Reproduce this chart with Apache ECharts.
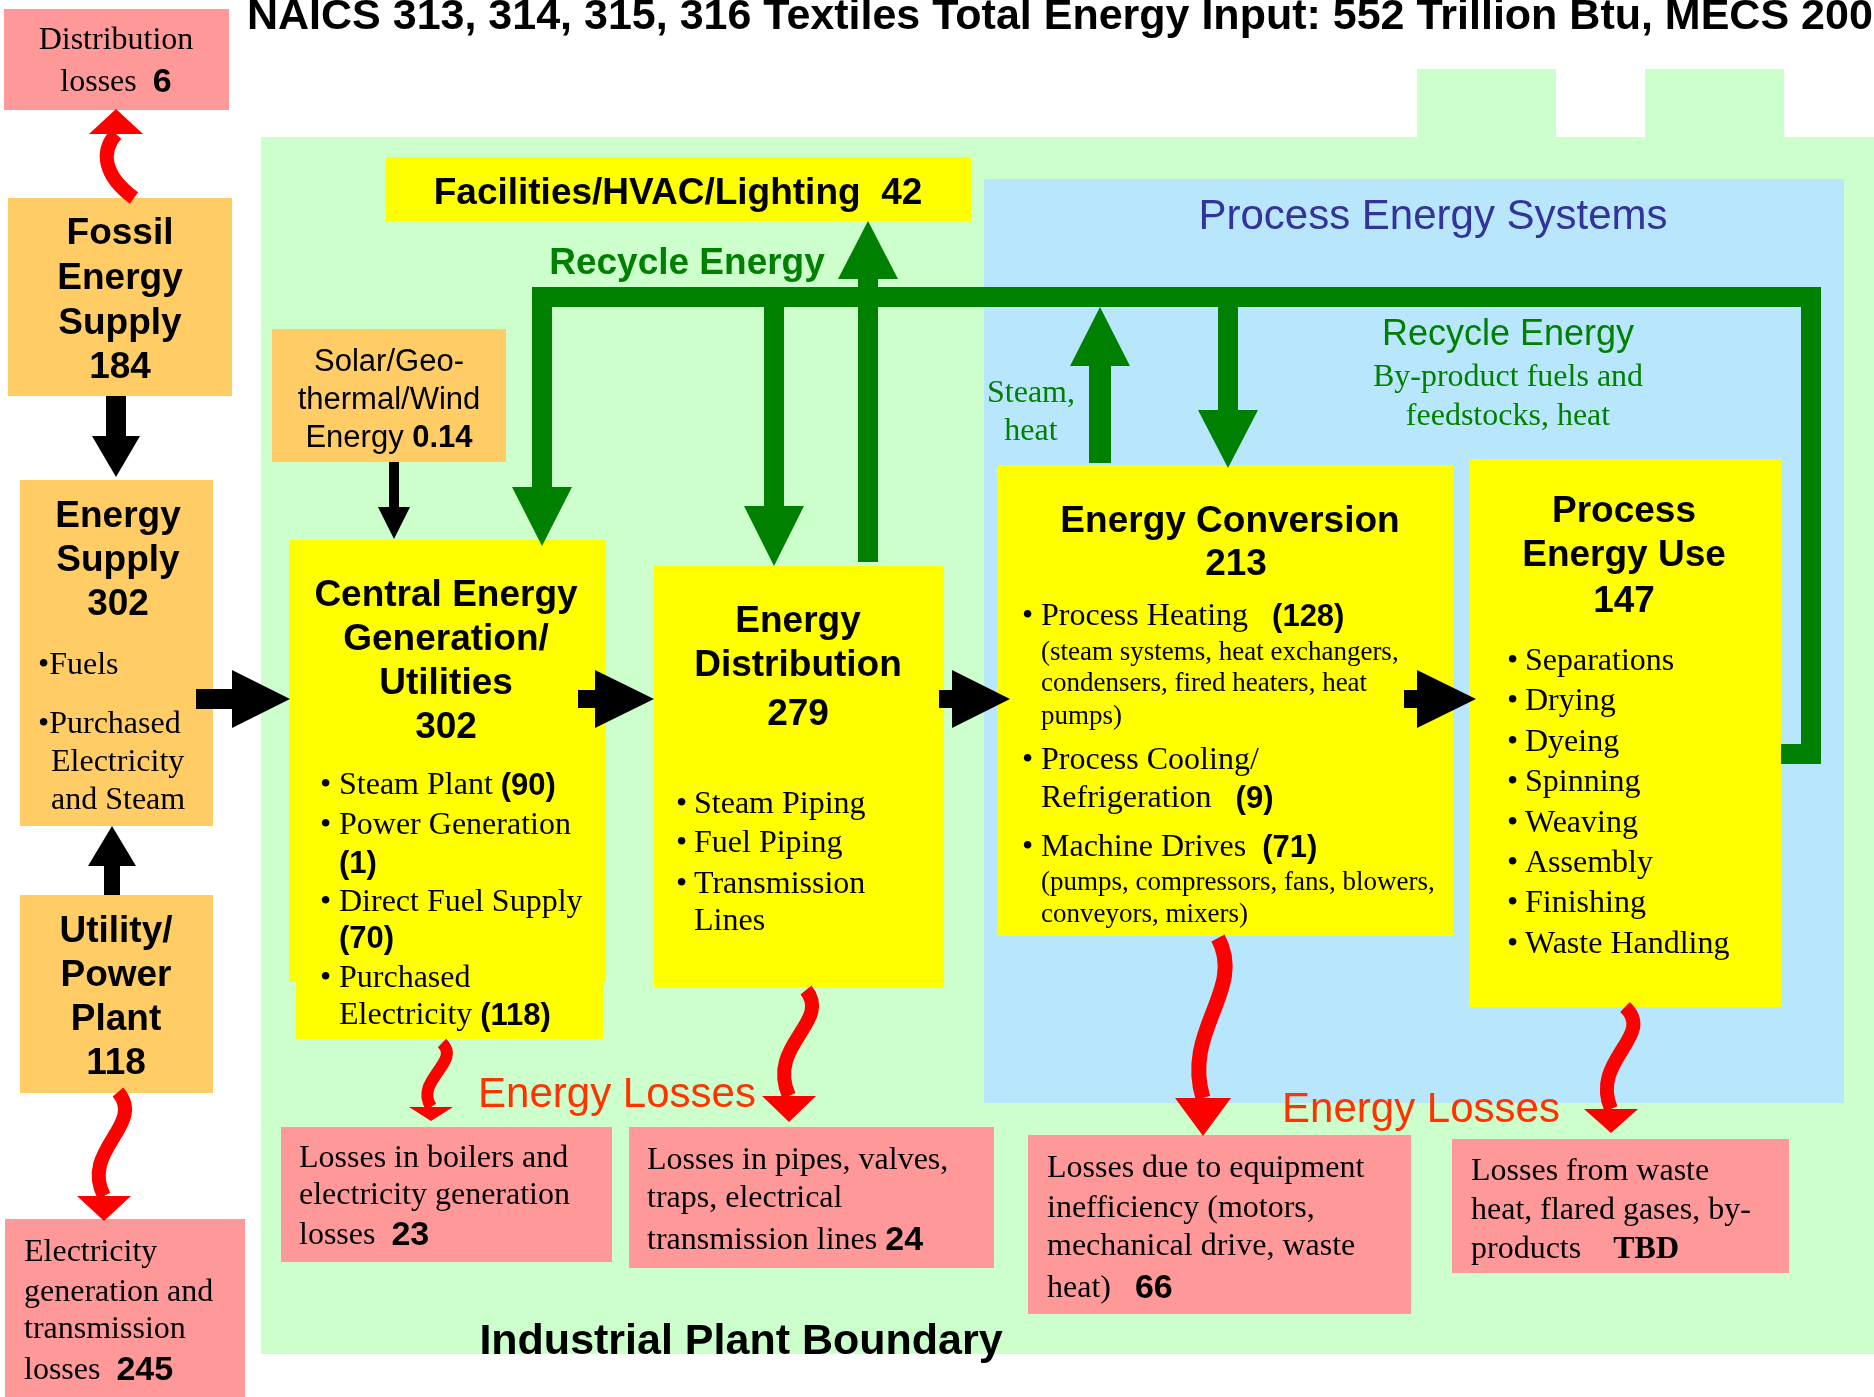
<!DOCTYPE html>
<html>
<head>
<meta charset="utf-8">
<title>Textiles Energy Footprint</title>
<script src="https://cdn.jsdelivr.net/npm/echarts@6/dist/echarts.min.js"></script>
<style>
html, body { margin: 0; padding: 0; background: #fff; }
#main { width: 1874px; height: 1397px; }
</style>
</head>
<body>
<div id="main"></div>
<script>
// 数据 (Trillion Btu)
var totalInput = 552;
var supplyValues = [184, 302, 118];          // fossil, energy supply, utility/power plant
var renewableValue = 0.14;
var facilitiesValue = 42;
var stageValues = [302, 279, 213, 147];      // central, distribution, conversion, process use
var utilityItems = ['Steam Plant', 'Power Generation', 'Direct Fuel Supply', 'Purchased Electricity'];
var utilityValues = [90, 1, 70, 118];
var distributionItems = ['Steam Piping', 'Fuel Piping', 'Transmission Lines'];
var conversionItems = ['Process Heating', 'Process Cooling/Refrigeration', 'Machine Drives'];
var conversionValues = [128, 9, 71];
var processUses = ['Separations', 'Drying', 'Dyeing', 'Spinning', 'Weaving', 'Assembly', 'Finishing', 'Waste Handling'];
var lossValues = [6, 245, 23, 24, 66, 'TBD'];  // distribution, elec gen, boilers, pipes, equipment, waste

var SANS = '"Liberation Sans", Arial, sans-serif';
var SERIF = '"Liberation Serif", "Times New Roman", serif';

// 布局 (chart units = px)
var rects = [
	[261, 137, 1613, 1217, '#CCFFCC'],
	[1417, 69, 139, 70, '#CCFFCC'],
	[1645, 69, 139, 70, '#CCFFCC'],
	[984, 179, 860, 924, '#B8E6FC'],
	[386, 157, 585, 64, '#FFFF00'],
	[272, 329, 234, 133, '#FFCC66'],
	[4, 9, 225, 101, '#FF9999'],
	[8, 198, 224, 198, '#FFCC66'],
	[20, 480, 193, 346, '#FFCC66'],
	[20, 895, 193, 198, '#FFCC66'],
	[5, 1219, 240, 178, '#FF9999'],
	[289, 540, 317, 442, '#FFFF00'],
	[296, 980, 307, 59, '#FFFF00'],
	[654, 566, 290, 422, '#FFFF00'],
	[997, 465, 456, 471, '#FFFF00'],
	[1469, 459, 312, 548, '#FFFF00'],
	[281, 1127, 331, 135, '#FF9999'],
	[629, 1127, 365, 141, '#FF9999'],
	[1028, 1135, 383, 179, '#FF9999'],
	[1452, 1139, 337, 134, '#FF9999']
];

// 回收管道
var pipeLoop = [[542, 490], [542, 297], [1811, 297], [1811, 754], [1781, 754]];

// arrows: [dir, center, start, base, tip, shaftHalf, headHalf, color]
var arrows = [
	['v', 542, 480, 487, 546, 10, 30, '#008000'],
	['v', 774, 297, 506, 566, 10, 30, '#008000'],
	['v', 868, 562, 279, 221, 10, 30, '#008000'],
	['v', 1100, 463, 366, 307, 11, 30, '#008000'],
	['v', 1228, 297, 410, 468, 10, 30, '#008000'],
	['v', 116, 396, 436, 477, 10, 24, '#000'],
	['v', 112, 895, 866, 826, 8, 24, '#000'],
	['v', 394, 462, 507, 539, 5, 16, '#000'],
	['h', 699, 196, 232, 290, 10, 29, '#000'],
	['h', 699, 578, 595, 654, 9, 29, '#000'],
	['h', 699, 939, 952, 1010, 9, 29, '#000'],
	['h', 699, 1404, 1417, 1476, 9, 29, '#000']
];

// wavy loss arrows: [x0,y0, c1x,c1y, c2x,c2y, x1,y1, headHalf, tipY, width]
var waves = [
	[134, 198, 104, 176, 100, 152, 116, 134, 27, 109, 14],
	[118, 1092, 146, 1125, 80, 1150, 104, 1196, 27, 1221, 14],
	[442, 1043, 462, 1062, 414, 1080, 431, 1107, 22, 1121, 12],
	[806, 990, 832, 1022, 766, 1045, 789, 1096, 27, 1122, 14],
	[1218, 938, 1246, 990, 1182, 1030, 1203, 1098, 28, 1136, 15],
	[1625, 1007, 1656, 1036, 1590, 1060, 1611, 1109, 27, 1133, 14]
];

var styles = {
	title: { fontFamily: SANS, fontWeight: 'bold', fontSize: 43, fill: '#000' },
	bottom: { fontFamily: SANS, fontWeight: 'bold', fontSize: 43, fill: '#000' },
	head: { fontFamily: SANS, fontWeight: 'bold', fontSize: 37, fill: '#000' },
	sans: { fontFamily: SANS, fontSize: 31, fill: '#000' },
	serif: { fontFamily: SERIF, fontSize: 32, fill: '#000' },
	small: { fontFamily: SERIF, fontSize: 27, fill: '#000' },
	pes: { fontFamily: SANS, fontSize: 42, fill: '#333399' },
	recycleBold: { fontFamily: SANS, fontWeight: 'bold', fontSize: 37, fill: '#008000' },
	recycle: { fontFamily: SANS, fontSize: 36, fill: '#008000' },
	recycleSerif: { fontFamily: SERIF, fontSize: 32, fill: '#008000' },
	loss: { fontFamily: SANS, fontSize: 42, fill: '#FF3300' }
};
var rich = {
	b: { fontFamily: SANS, fontWeight: 'bold', fontSize: 31, fill: '#000', color: '#000' },
	n: { fontFamily: SANS, fontWeight: 'bold', fontSize: 34, fill: '#000', color: '#000' },
	t: { fontFamily: SERIF, fontWeight: 'bold', fontSize: 32, fill: '#000', color: '#000' }
};
var TEXT_SHIFT = 3;

function b(v) { return '{b|' + v + '}'; }
function n(v) { return '{n|' + v + '}'; }

// texts: [x, y, text, style, align]
var texts = [
	[247, 14, 'NAICS 313, 314, 315, 316 Textiles Total Energy Input: ' + totalInput + ' Trillion Btu, MECS 2002', 'title', 'left'],
	[116, 38, 'Distribution', 'serif'],
	[116, 80, 'losses  ' + n(lossValues[0]), 'serif'],
	[120, 231, 'Fossil', 'head'], [120, 276, 'Energy', 'head'], [120, 321, 'Supply', 'head'], [120, 365, String(supplyValues[0]), 'head'],
	[118, 514, 'Energy', 'head'], [118, 558, 'Supply', 'head'], [118, 602, String(supplyValues[1]), 'head'],
	[38, 663, '•Fuels', 'serif', 'left'],
	[38, 722, '•Purchased', 'serif', 'left'],
	[51, 760, 'Electricity', 'serif', 'left'],
	[51, 798, 'and Steam', 'serif', 'left'],
	[116, 929, 'Utility/', 'head'], [116, 973, 'Power', 'head'], [116, 1017, 'Plant', 'head'], [116, 1061, String(supplyValues[2]), 'head'],
	[24, 1250, 'Electricity', 'serif', 'left'],
	[24, 1290, 'generation and', 'serif', 'left'],
	[24, 1327, 'transmission', 'serif', 'left'],
	[24, 1368, 'losses  ' + n(lossValues[1]), 'serif', 'left'],
	[389, 359, 'Solar/Geo-', 'sans'], [389, 397, 'thermal/Wind', 'sans'], [389, 435, 'Energy ' + '{b|' + renewableValue + '}', 'sans'],
	[678, 191, 'Facilities/HVAC/Lighting  ' + facilitiesValue, 'head'],
	[687, 261, 'Recycle Energy', 'recycleBold'],
	[446, 593, 'Central Energy', 'head'], [446, 637, 'Generation/', 'head'], [446, 681, 'Utilities', 'head'], [446, 725, String(stageValues[0]), 'head'],
	[320, 783, '•', 'serif', 'left'], [339, 783, utilityItems[0] + ' ' + b('(' + utilityValues[0] + ')'), 'serif', 'left'],
	[320, 823, '•', 'serif', 'left'], [339, 823, utilityItems[1], 'serif', 'left'],
	[339, 861, b('(' + utilityValues[1] + ')'), 'serif', 'left'],
	[320, 900, '•', 'serif', 'left'], [339, 900, utilityItems[2], 'serif', 'left'],
	[339, 936, b('(' + utilityValues[2] + ')'), 'serif', 'left'],
	[320, 976, '•', 'serif', 'left'], [339, 976, 'Purchased', 'serif', 'left'],
	[339, 1013, 'Electricity ' + b('(' + utilityValues[3] + ')'), 'serif', 'left'],
	[798, 619, 'Energy', 'head'], [798, 663, 'Distribution', 'head'], [798, 712, String(stageValues[1]), 'head'],
	[676, 802, '•', 'serif', 'left'], [694, 802, distributionItems[0], 'serif', 'left'],
	[676, 841, '•', 'serif', 'left'], [694, 841, distributionItems[1], 'serif', 'left'],
	[676, 882, '•', 'serif', 'left'], [694, 882, 'Transmission', 'serif', 'left'],
	[694, 919, 'Lines', 'serif', 'left'],
	[1230, 519, 'Energy Conversion', 'head'], [1236, 562, String(stageValues[2]), 'head'],
	[1022, 614, '•', 'serif', 'left'], [1041, 614, conversionItems[0] + '   ' + b('(' + conversionValues[0] + ')'), 'serif', 'left'],
	[1041, 650, '(steam systems, heat exchangers,', 'small', 'left'],
	[1041, 681, 'condensers, fired heaters, heat', 'small', 'left'],
	[1041, 714, 'pumps)', 'small', 'left'],
	[1022, 758, '•', 'serif', 'left'], [1041, 758, 'Process Cooling/', 'serif', 'left'],
	[1041, 796, 'Refrigeration   ' + b('(' + conversionValues[1] + ')'), 'serif', 'left'],
	[1022, 845, '•', 'serif', 'left'], [1041, 845, conversionItems[2] + '  ' + b('(' + conversionValues[2] + ')'), 'serif', 'left'],
	[1041, 880, '(pumps, compressors, fans, blowers,', 'small', 'left'],
	[1041, 912, 'conveyors, mixers)', 'small', 'left'],
	[1624, 509, 'Process', 'head'], [1624, 553, 'Energy Use', 'head'], [1624, 599, String(stageValues[3]), 'head'],
	[1433, 214, 'Process Energy Systems', 'pes'],
	[1508, 332, 'Recycle Energy', 'recycle'],
	[1508, 375, 'By-product fuels and', 'recycleSerif'],
	[1508, 414, 'feedstocks, heat', 'recycleSerif'],
	[1031, 391, 'Steam,', 'recycleSerif'],
	[1031, 429, 'heat', 'recycleSerif'],
	[617, 1092, 'Energy Losses', 'loss'],
	[1421, 1107, 'Energy Losses', 'loss'],
	[299, 1156, 'Losses in boilers and', 'serif', 'left'],
	[299, 1193, 'electricity generation', 'serif', 'left'],
	[299, 1233, 'losses  ' + n(lossValues[2]), 'serif', 'left'],
	[647, 1158, 'Losses in pipes, valves,', 'serif', 'left'],
	[647, 1196, 'traps, electrical', 'serif', 'left'],
	[647, 1238, 'transmission lines ' + n(lossValues[3]), 'serif', 'left'],
	[1047, 1166, 'Losses due to equipment', 'serif', 'left'],
	[1047, 1206, 'inefficiency (motors,', 'serif', 'left'],
	[1047, 1244, 'mechanical drive, waste', 'serif', 'left'],
	[1047, 1286, 'heat)   ' + n(lossValues[4]), 'serif', 'left'],
	[1471, 1169, 'Losses from waste', 'serif', 'left'],
	[1471, 1208, 'heat, flared gases, by-', 'serif', 'left'],
	[1471, 1247, 'products    {t|' + lossValues[5] + '}', 'serif', 'left'],
	[741, 1339, 'Industrial Plant Boundary', 'bottom']
];

processUses.forEach(function (name, i) {
	var y = [659, 699, 740, 780, 821, 861, 901, 942][i];
	texts.push([1507, y, '•', 'serif', 'left']);
	texts.push([1525, y, name, 'serif', 'left']);
});

function indexData(arr) {
	return arr.map(function (d, i) { return [i, 0]; });
}

function renderRect(params, api) {
	var r = rects[params.dataIndex];
	var p0 = api.coord([r[0], r[1]]);
	var p1 = api.coord([r[0] + r[2], r[1] + r[3]]);
	return {
		type: 'rect',
		shape: { x: p0[0], y: p0[1], width: p1[0] - p0[0], height: p1[1] - p0[1] },
		style: { fill: r[4] }
	};
}

function renderPipe(params, api) {
	var pts = pipeLoop.map(function (p) { return api.coord(p); });
	return {
		type: 'polyline',
		shape: { points: pts },
		style: { stroke: '#008000', lineWidth: 20, fill: null, lineJoin: 'miter', lineCap: 'butt' }
	};
}

function renderArrow(params, api) {
	var a = arrows[params.dataIndex];
	var c = a[1], s = a[5], h = a[6], pts;
	if (a[0] === 'v') {
		pts = [[c - s, a[2]], [c - s, a[3]], [c - h, a[3]], [c, a[4]], [c + h, a[3]], [c + s, a[3]], [c + s, a[2]]];
	} else {
		pts = [[a[2], c - s], [a[3], c - s], [a[3], c - h], [a[4], c], [a[3], c + h], [a[3], c + s], [a[2], c + s]];
	}
	return {
		type: 'polygon',
		shape: { points: pts.map(function (p) { return api.coord(p); }) },
		style: { fill: a[7] }
	};
}

function renderWave(params, api) {
	var w = waves[params.dataIndex];
	var p0 = api.coord([w[0], w[1]]), c1 = api.coord([w[2], w[3]]);
	var c2 = api.coord([w[4], w[5]]), p1 = api.coord([w[6], w[7]]);
	var head = [[w[6] - w[8], w[7]], [w[6], w[9]], [w[6] + w[8], w[7]]].map(function (p) { return api.coord(p); });
	return {
		type: 'group',
		children: [{
			type: 'bezierCurve',
			shape: { x1: p0[0], y1: p0[1], cpx1: c1[0], cpy1: c1[1], cpx2: c2[0], cpy2: c2[1], x2: p1[0], y2: p1[1] },
			style: { stroke: '#FF0000', lineWidth: w[10], fill: null }
		}, {
			type: 'polygon',
			shape: { points: head },
			style: { fill: '#FF0000' }
		}]
	};
}

function renderText(params, api) {
	var t = texts[params.dataIndex];
	var pt = api.coord([t[0], t[1] + TEXT_SHIFT]);
	var st = Object.assign({}, styles[t[3]], {
		text: t[2],
		align: t[4] || 'center',
		verticalAlign: 'middle',
		rich: rich
	});
	return { type: 'text', x: pt[0], y: pt[1], style: st };
}

var myChart = echarts.init(document.getElementById('main'));
var option = {
	backgroundColor: '#fff',
	animation: false,
	grid: { left: 0, right: 0, top: 0, bottom: 0 },
	xAxis: { type: 'value', min: 0, max: 1874, show: false },
	yAxis: { type: 'value', min: 0, max: 1397, inverse: true, show: false },
	series: [
		{ type: 'custom', name: 'areas', silent: true, clip: false, renderItem: renderRect, data: indexData(rects) },
		{ type: 'custom', name: 'recycle', silent: true, clip: false, renderItem: renderPipe, data: [[0, 0]] },
		{ type: 'custom', name: 'arrows', silent: true, clip: false, renderItem: renderArrow, data: indexData(arrows) },
		{ type: 'custom', name: 'losses', silent: true, clip: false, renderItem: renderWave, data: indexData(waves) },
		{ type: 'custom', name: 'labels', silent: true, clip: false, renderItem: renderText, data: indexData(texts) }
	]
};
myChart.setOption(option);
</script>
</body>
</html>
